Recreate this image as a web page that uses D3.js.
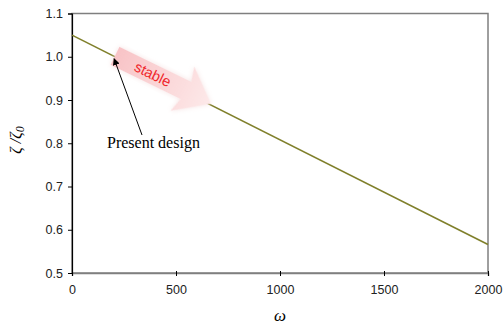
<!DOCTYPE html>
<meta charset="utf-8" />
<style>
  body { margin: 0; background: #fff; }
  svg { display: block; }
</style>
<script src="https://d3js.org/d3.v7.min.js"></script>
<svg id="chart" width="503" height="325"></svg>
<script>
  // data
  const omega = [0, 2000];
  const ratio = [1.05, 0.566];
  const xTicks = [0, 500, 1000, 1500, 2000];
  const yTicks = [0.5, 0.6, 0.7, 0.8, 0.9, 1.0, 1.1];
  const design = [200, 1.0];

  const svg = d3.select('#chart');
  const m = { left: 72, right: 488, top: 13.5, bottom: 273 };

  const x = d3.scaleLinear().domain([0, 2000]).range([m.left, m.right]);
  const y = d3.scaleLinear().domain([0.5, 1.1]).range([m.bottom, m.top]);

  const defs = svg.append('defs');
  const grad = defs.append('linearGradient').attr('id', 'pink')
    .attr('x1', '0%').attr('y1', '0%').attr('x2', '100%').attr('y2', '0%');
  grad.append('stop').attr('offset', '0%').attr('stop-color', '#f8c3c6');
  grad.append('stop').attr('offset', '100%').attr('stop-color', '#fde9e9');
  const glow = defs.append('filter').attr('id', 'glow')
    .attr('x', '-30%').attr('y', '-30%').attr('width', '160%').attr('height', '160%');
  glow.append('feGaussianBlur').attr('in', 'SourceAlpha').attr('stdDeviation', 2.5).attr('result', 'b');
  glow.append('feFlood').attr('flood-color', '#f4dcdc').attr('flood-opacity', 0.8);
  glow.append('feComposite').attr('in2', 'b').attr('operator', 'in').attr('result', 's');
  const mg = glow.append('feMerge');
  mg.append('feMergeNode').attr('in', 's');
  mg.append('feMergeNode').attr('in', 'SourceGraphic');

  const arrowHead = defs.append('marker').attr('id', 'head')
    .attr('viewBox', '0 0 10 10').attr('refX', 9).attr('refY', 5)
    .attr('markerWidth', 7).attr('markerHeight', 7).attr('orient', 'auto')
    .attr('markerUnits', 'userSpaceOnUse');
  arrowHead.append('path').attr('d', 'M0,0 L10,5 L0,10 Z').attr('fill', '#000');

  // frame
  svg.append('rect')
    .attr('x', m.left).attr('y', m.top)
    .attr('width', m.right - m.left).attr('height', m.bottom - m.top)
    .attr('fill', 'none').attr('stroke', '#7f7f7f').attr('stroke-width', 1.5);

  // x axis
  const xa = svg.append('g').attr('transform', `translate(0,${m.bottom})`)
    .call(d3.axisBottom(x).tickValues(xTicks).tickSize(3).tickFormat(d3.format('d')));
  xa.select('.domain').attr('stroke', '#7f7f7f').attr('stroke-width', 1.5);
  xa.selectAll('.tick line').attr('stroke', '#000').attr('y1', -2);
  xa.selectAll('text').attr('font-family', 'Liberation Sans, Arial, sans-serif')
    .attr('font-size', 12.5).attr('fill', '#222').attr('y', 12).attr('dy', '0.71em');

  // y axis
  const ya = svg.append('g').attr('transform', `translate(${m.left},0)`)
    .call(d3.axisLeft(y).tickValues(yTicks).tickSize(4).tickFormat(d3.format('.1f')));
  ya.select('.domain').attr('stroke', '#000').attr('stroke-width', 1.2);
  ya.selectAll('.tick line').attr('stroke', '#000');
  ya.selectAll('text').attr('font-family', 'Liberation Sans, Arial, sans-serif')
    .attr('font-size', 12.5).attr('fill', '#222').attr('x', -9);

  // series line
  svg.append('path')
    .datum(omega.map((o, i) => [o, ratio[i]]))
    .attr('fill', 'none').attr('stroke', '#7f7f2a').attr('stroke-width', 1.6)
    .attr('d', d3.line().x(d => x(d[0])).y(d => y(d[1])));

  // pink "stable" arrow
  const ax = x(design[0]) + 1, ay = y(design[1]);
  const g = svg.append('g')
    .attr('transform', `translate(${ax},${ay}) rotate(26)`);
  g.append('path')
    .attr('d', 'M0,-11 L80,-11 L76,-26 L107,0 L74,24 L78,9 L0,9 Z')
    .attr('fill', 'url(#pink)').attr('filter', 'url(#glow)');
  g.append('text')
    .attr('x', 42).attr('y', 4)
    .attr('text-anchor', 'middle')
    .attr('font-family', 'Liberation Sans, Arial, sans-serif')
    .attr('font-size', 14.5).attr('fill', '#f0282d')
    .text('stable');

  // annotation
  svg.append('line')
    .attr('x1', 142).attr('y1', 135)
    .attr('x2', x(design[0]) + 0.5).attr('y2', y(design[1]) + 2)
    .attr('stroke', '#000').attr('stroke-width', 1)
    .attr('marker-end', 'url(#head)');
  svg.append('text')
    .attr('x', 107).attr('y', 148)
    .attr('font-family', 'Liberation Serif, Times New Roman, serif')
    .attr('font-size', 16).attr('fill', '#000')
    .text('Present design');

  // axis labels
  svg.append('text')
    .attr('x', x(1000)).attr('y', 321)
    .attr('text-anchor', 'middle')
    .attr('font-family', 'Liberation Serif, Times New Roman, serif')
    .attr('font-style', 'italic').attr('font-size', 17)
    .text('ω');
  const yl = svg.append('text')
    .attr('transform', `translate(21,140) rotate(-90)`)
    .attr('text-anchor', 'middle')
    .attr('font-family', 'Liberation Serif, Times New Roman, serif')
    .attr('font-style', 'italic').attr('font-size', 16);
  yl.append('tspan').text('ζ /ζ');
  yl.append('tspan').attr('font-size', 12).attr('dy', 3).text('0');
</script>
